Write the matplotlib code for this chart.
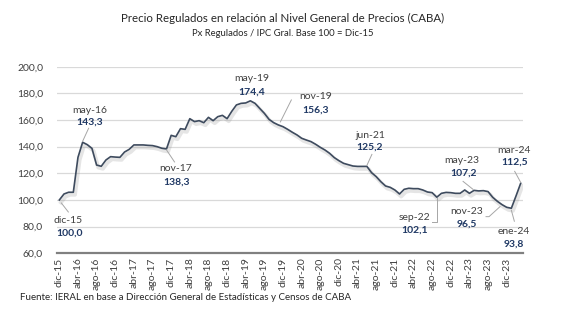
import matplotlib
matplotlib.use("Agg")
import matplotlib.pyplot as plt
import matplotlib.patheffects as pe
from matplotlib.ticker import FuncFormatter

plt.rcParams['font.family'] = ['Lato', 'DejaVu Sans']

# Precios regulados / IPC general, base dic-15 = 100 (mensual, dic-15 a mar-24)
valores = [
    100.0, 104.5, 105.8, 105.8, 132.0, 143.3, 141.5, 138.7, 126.2, 125.3,
    130.0, 132.5, 132.2, 132.0, 136.0, 138.0, 141.3, 141.3, 141.3, 141.0,
    140.8, 140.0, 138.8, 138.3, 148.5, 147.5, 153.5, 153.0, 161.0, 158.8,
    159.5, 158.0, 162.0, 159.5, 162.5, 163.5, 161.0, 166.5, 171.3, 172.5,
    172.8, 174.4, 172.5, 168.7, 165.0, 160.5, 158.0, 156.3, 155.0, 153.0,
    150.8, 148.8, 146.3, 145.0, 143.8, 141.8, 139.5, 137.5, 135.0, 131.8,
    129.5, 127.5, 126.5, 125.5, 125.2, 125.2, 125.2, 120.5, 117.5, 113.7,
    110.5, 109.5, 107.5, 104.5, 108.0, 108.8, 108.5, 108.5, 107.5, 106.0,
    105.5, 102.1, 105.0, 105.7, 105.5, 105.0, 105.0, 107.5, 105.0, 107.2,
    106.8, 107.0, 106.3, 102.0, 99.0, 96.5, 94.5, 93.8, 103.0, 112.5,
]

meses_abr = ['ene', 'feb', 'mar', 'abr', 'may', 'jun',
             'jul', 'ago', 'sep', 'oct', 'nov', 'dic']
fechas = []
for k in range(len(valores)):
    m = (11 + k) % 12
    a = 15 + (11 + k) // 12
    fechas.append(f"{meses_abr[m]}-{a}")

# etiquetas destacadas: (fecha, desplazamiento mes, desplazamiento valor, guia) en pixeles
destacados = [
    ('dic-15', (9, -21), (10, -33), [(9, -12), (2, -3)]),
    ('may-16', (7, 32), (7, 20), [(6, 14), (0, 1)]),
    ('nov-17', (9, -20), (10, -33), [(8, -13), (0, -1)]),
    ('may-19', (1, 22), (1, 9), None),
    ('nov-19', (37, 28), (37, 15), [(13, 25), (2, 3)]),
    ('jun-21', (3, 31), (3, 19), [(5, 12), (0, 1)]),
    ('sep-22', (-22, -20), (-22, -33), [(-5, -25), (0, -25), (0, -1)]),
    ('may-23', (-12, 30), (-11, 17), [(-11, 9), (-1, 1)]),
    ('nov-23', (-35, -7), (-35, -19), [(-16, -12), (-13, -12), (-2, -2)]),
    ('ene-24', (2, -23), (2, -36), [(3, -13), (0, -2)]),
    ('mar-24', (-7, 33), (-6, 21), [(-6, 12), (0, 1)]),
]

gris = '#404040'
azul = '#1F3864'

fig = plt.figure(figsize=(5.66, 3.26), dpi=100)
ax = fig.add_axes([57 / 566, 1 - 253.3 / 326, (523 - 57) / 566, (253.3 - 66.7) / 326])

x = list(range(len(valores)))
ax.plot(x, valores, color='#3E4B5E', lw=1.2, zorder=3,
        path_effects=[pe.SimpleLineShadow(offset=(1.2, -1.8), shadow_color='#8C8C8C',
                                          alpha=0.22, linewidth=2.8),
                      pe.Normal()])

ax.set_xlim(-0.5, len(valores) - 0.5)
ax.set_ylim(60, 200)
ax.set_yticks(range(60, 201, 20))
ax.yaxis.set_major_formatter(FuncFormatter(lambda v, p: f"{v:.1f}".replace('.', ',')))
ax.set_xticks(x[::4])
ax.set_xticklabels(fechas[::4], rotation=90)

ax.grid(axis='y', color='#D9D9D9', lw=0.9)
ax.set_axisbelow(True)
for s in ['top', 'right', 'left']:
    ax.spines[s].set_visible(False)
ax.spines['bottom'].set_color('#808080')
ax.spines['bottom'].set_linewidth(1.6)
ax.tick_params(length=0, labelsize=7.5, colors=gris)
ax.tick_params(axis='x', pad=3)
ax.tick_params(axis='y', pad=10)

for fecha, off_mes, off_val, guia in destacados:
    i = fechas.index(fecha)
    v = valores[i]
    ax.annotate(fecha, (i, v), xytext=off_mes, textcoords='offset pixels',
                ha='center', va='center', fontsize=7.5, color=gris, zorder=5)
    ax.annotate(f"{v:.1f}".replace('.', ','), (i, v), xytext=off_val, textcoords='offset pixels',
                ha='center', va='center', fontsize=7.5, color=azul, fontweight='bold', zorder=5)
    if guia:
        # linea guia desde la etiqueta hasta el punto
        xs, ys = ax.transData.transform((i, v))
        pts = [ax.transData.inverted().transform((xs + dx, ys + dy)) for dx, dy in guia]
        ax.plot([p[0] for p in pts], [p[1] for p in pts], color='#A6A6A6', lw=0.7,
                zorder=4, clip_on=False)

fig.text(0.5, 1 - 18 / 326, 'Precio Regulados en relación al Nivel General de Precios (CABA)',
         ha='center', va='center', fontsize=8.3, color='#262626')
fig.text(0.5, 1 - 33 / 326, 'Px Regulados / IPC Gral. Base 100 = Dic-15',
         ha='center', va='center', fontsize=6.8, color='#262626')
fig.text(20 / 566, 1 - 298 / 326,
         'Fuente: IERAL en base a Dirección General de Estadísticas y Censos de CABA',
         ha='left', va='center', fontsize=7, color='#262626')

fig.savefig('out.png', dpi=100, facecolor='white')
